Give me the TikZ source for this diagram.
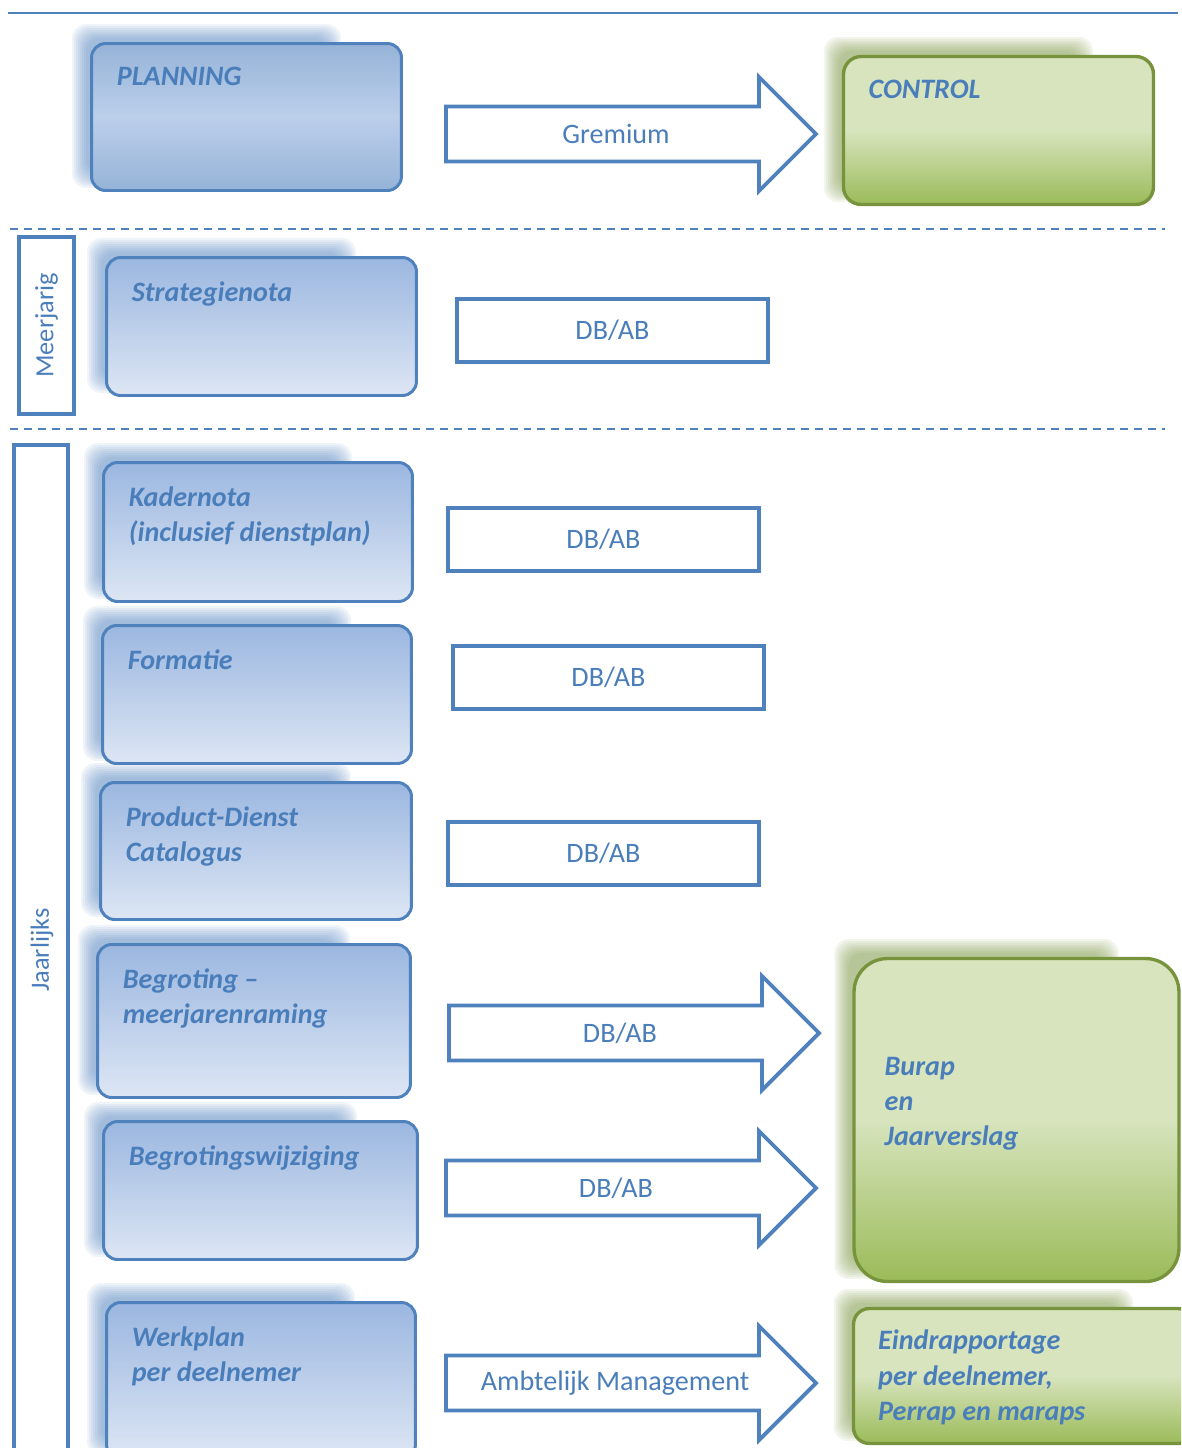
\documentclass[tikz,border=0pt]{standalone}
\usepackage{fontspec}
\setmainfont{Carlito}
\usetikzlibrary{positioning,calc,backgrounds}
\definecolor{lineblue}{HTML}{4F81BD}
\definecolor{textblue}{HTML}{4A7EBB}
\definecolor{boxtop}{HTML}{9BB7E0}
\definecolor{boxbottom}{HTML}{DDE6F4}
\definecolor{plantop}{HTML}{95B3D7}
\definecolor{planmid}{HTML}{BCCFEB}
\definecolor{greenline}{HTML}{77933C}
\definecolor{greentop}{HTML}{D7E4BD}
\definecolor{greenbottom}{HTML}{9BBB59}
\tikzset{
    every node/.style={font=\fontsize{16}{20}\selectfont, text=textblue},
    bluebox/.style={draw=lineblue, line width=1.7pt, rounded corners=8pt, top color=boxtop, bottom color=boxbottom},
    greenbox/.style={draw=greenline, line width=1.9pt, rounded corners=10pt, top color=greentop, bottom color=greenbottom, middle color=greentop},
    boxtext/.style={font=\fontsize{16}{20}\selectfont\bfseries\itshape, inner sep=0pt, align=left},
    sidetext/.style={font=\fontsize{15}{18}\selectfont, rotate=90},
    frame/.style={draw=lineblue, line width=2.3pt, fill=white},
    blockarrow/.style={draw=lineblue, line width=2.2pt, fill=white, line join=miter},
    sep/.style={lineblue, line width=1.1pt, dash pattern=on 4.5pt off 3.4pt},
}
\begin{document}
\begin{tikzpicture}[x=0.02cm, y=-0.02cm]
\useasboundingbox (0,0) rectangle (1181,1448);
\clip (0,0) rectangle (1181,1448);
% top line and the two dashed separators
\draw[lineblue, line width=1.1pt] (8,13) -- (1178,13);
\draw[sep] (10,229) -- (1165,229);
\draw[sep] (10,429) -- (1165,429);

% side frames
\node[frame, minimum width=1.1cm, minimum height=3.54cm] (meer) at (46.5,325.5) {};
\node[sidetext] (meertxt) at (meer) {Meerjarig};
\node[frame, minimum width=1.08cm, minimum height=20.5cm] (jaar) at (41,957) {};
\node[sidetext] (jaartxt) at (42,950) {Jaarlijks};

% planning boxes
\node[bluebox, minimum width=6.2cm, minimum height=2.94cm, top color=plantop, bottom color=plantop, middle color=planmid] (planning) at (246.5,117) {};
\node[boxtext, below right=0.5cm and 0.53cm of planning.north west] (planningtxt) {PLANNING};
\node[bluebox, minimum width=6.2cm, minimum height=2.76cm] (strat) at (261.5,326.5) {};
\node[boxtext, below right=0.5cm and 0.53cm of strat.north west] (strattxt) {Strategienota};
\node[bluebox, minimum width=6.18cm, minimum height=2.78cm] (kader) at (258,532) {};
\node[boxtext, below right=0.5cm and 0.53cm of kader.north west] (kadertxt) {Kadernota\\(inclusief dienstplan)};
\node[bluebox, minimum width=6.18cm, minimum height=2.76cm] (formatie) at (257,694.5) {};
\node[boxtext, below right=0.5cm and 0.53cm of formatie.north west] (formatietxt) {Formatie};
\node[bluebox, minimum width=6.22cm, minimum height=2.74cm] (pdc) at (256,851) {};
\node[boxtext, below right=0.5cm and 0.53cm of pdc.north west] (pdctxt) {Product-Dienst\\Catalogus};
\node[bluebox, minimum width=6.26cm, minimum height=3.06cm] (begroting) at (254,1021) {};
\node[boxtext, below right=0.5cm and 0.53cm of begroting.north west] (begrotingtxt) {Begroting –\\meerjarenraming};
\node[bluebox, minimum width=6.28cm, minimum height=2.76cm] (wijziging) at (260.5,1190.5) {};
\node[boxtext, below right=0.5cm and 0.53cm of wijziging.north west] (wijzigingtxt) {Begrotingswijziging};
\node[bluebox, minimum width=6.18cm, minimum height=3.12cm] (werkplan) at (261,1380.5) {};
\node[boxtext, below right=0.5cm and 0.53cm of werkplan.north west] (werkplantxt) {Werkplan\\per deelnemer};

% control boxes
\node[greenbox, minimum width=6.2cm, minimum height=2.96cm] (control) at (998.5,130.5) {};
\node[boxtext, below right=0.5cm and 0.53cm of control.north west] (controltxt) {CONTROL};
\node[greenbox, rounded corners=19pt, minimum width=6.5cm, minimum height=6.46cm] (burap) at (1016.5,1120) {};
\node[boxtext, below right=2.0cm and 0.64cm of burap.north west] (buraptxt) {Burap\\en\\Jaarverslag};
\node[greenbox, rounded corners=9pt, minimum width=6.8cm, minimum height=2.7cm] (eind) at (1023.5,1376) {};
\node[boxtext, below right=0.46cm and 0.52cm of eind.north west] (eindtxt) {Eindrapportage\\per deelnemer,\\Perrap en maraps};

% gremium frames
\node[frame, minimum width=6.22cm, minimum height=1.26cm] (dbab1) at (612.5,330.5) {DB/AB};
\node[frame, minimum width=6.22cm, minimum height=1.26cm] (dbab2) at (603.5,539.5) {DB/AB};
\node[frame, minimum width=6.22cm, minimum height=1.26cm] (dbab3) at (608.5,677.5) {DB/AB};
\node[frame, minimum width=6.22cm, minimum height=1.26cm] (dbab4) at (603.5,853.5) {DB/AB};

% block arrows: tail at x, shaft 55 high, head 114 high
\draw[blockarrow] (446,106.5) -- ++(313,0) -- ++(0,-29.5) -- ++(57,57) -- ++(-57,57) -- ++(0,-29.5) -- ++(-313,0) -- cycle;
\node (gremium) at (616,134) {Gremium};
\draw[blockarrow] (449,1005.5) -- ++(313,0) -- ++(0,-29.5) -- ++(57,57) -- ++(-57,57) -- ++(0,-29.5) -- ++(-313,0) -- cycle;
\node (dbab5) at (620,1033) {DB/AB};
\draw[blockarrow] (446,1160.5) -- ++(313,0) -- ++(0,-29.5) -- ++(57,57) -- ++(-57,57) -- ++(0,-29.5) -- ++(-313,0) -- cycle;
\node (dbab6) at (616,1188) {DB/AB};
\draw[blockarrow] (446,1355.5) -- ++(313,0) -- ++(0,-29.5) -- ++(57,57) -- ++(-57,57) -- ++(0,-29.5) -- ++(-313,0) -- cycle;
\node (ambtelijk) at (615,1383) {Ambtelijk Management};

% blurred shadows behind the boxes
\begin{scope}[on background layer]
\foreach \n/\c in {planning/lineblue, strat/lineblue, kader/lineblue, formatie/lineblue, pdc/lineblue, begroting/lineblue, wijziging/lineblue, werkplan/lineblue, control/greenline, burap/greenline, eind/greenline}
  \foreach \d in {0,2,...,14}
    \fill[\c, opacity=0.09, rounded corners=8pt] ($(\n.north west)+(-4-\d,-4-\d)$) rectangle ($(\n.south east)+(-76+\d,-18+\d)$);
\end{scope}
\end{tikzpicture}
\end{document}
